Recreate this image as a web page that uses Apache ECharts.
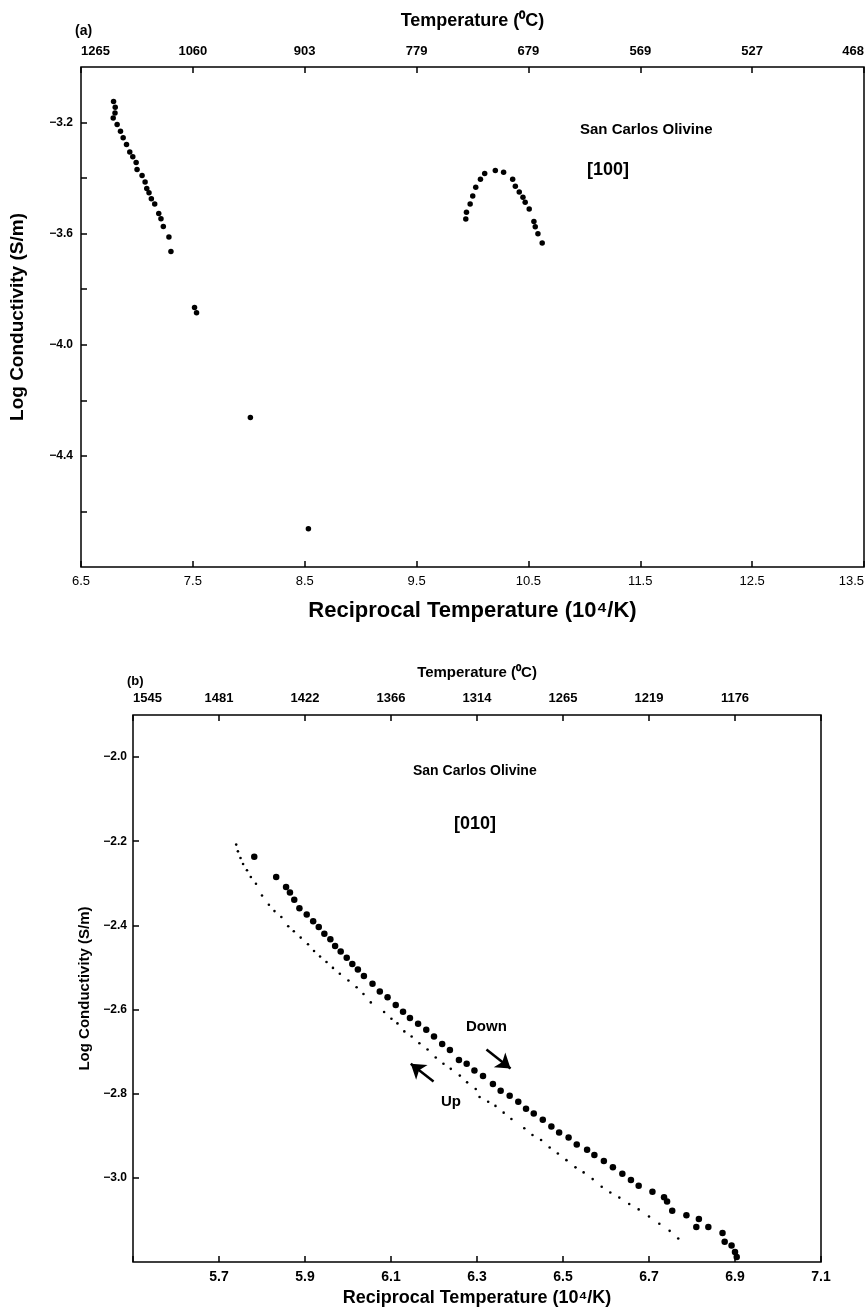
<!DOCTYPE html>
<html>
<head>
<meta charset="utf-8">
<script src="https://cdn.jsdelivr.net/npm/echarts@6/dist/echarts.min.js"></script>
<style>
html, body { margin: 0; padding: 0; background: #fff; }
#echarts-box { width: 867px; height: 1308px; }
</style>
</head>
<body>
<div id="echarts-box"></div>
<script>
// (a) San Carlos olivine [100]
var recipA = [6.791, 6.806, 6.804, 6.788, 6.823, 6.853, 6.877, 6.907, 6.936, 6.963, 6.993, 7.001,
    7.046, 7.073, 7.088, 7.108, 7.129, 7.159, 7.195, 7.215, 7.236, 7.286, 7.304, 7.515, 7.533,
    8.014, 8.533,
    9.940, 9.946, 9.979, 10.002, 10.029, 10.071, 10.109, 10.204, 10.278, 10.359, 10.383, 10.418,
    10.451, 10.471, 10.507, 10.549, 10.561, 10.585, 10.623];
var logA = [-3.124, -3.145, -3.166, -3.184, -3.207, -3.231, -3.255, -3.279, -3.306, -3.323, -3.344, -3.369,
    -3.391, -3.414, -3.437, -3.453, -3.474, -3.493, -3.527, -3.546, -3.574, -3.612, -3.664, -3.866, -3.885,
    -4.262, -4.662,
    -3.547, -3.523, -3.493, -3.464, -3.433, -3.404, -3.383, -3.373, -3.379, -3.404, -3.429, -3.450,
    -3.469, -3.487, -3.511, -3.556, -3.575, -3.600, -3.634];

// (b) San Carlos olivine [010], heating (Up) and cooling (Down)
var recipUp = [5.740, 5.744, 5.750, 5.756, 5.765, 5.774, 5.786, 5.800, 5.816, 5.829, 5.845, 5.861,
    5.874, 5.890, 5.907, 5.921, 5.935, 5.950, 5.965, 5.981, 6.001, 6.020, 6.036, 6.053, 6.084,
    6.101, 6.115, 6.131, 6.148, 6.166, 6.185, 6.204, 6.222, 6.239, 6.260, 6.277, 6.297, 6.306,
    6.326, 6.343, 6.362, 6.380, 6.410, 6.429, 6.449, 6.469, 6.488, 6.508, 6.529, 6.548, 6.569,
    6.590, 6.610, 6.631, 6.654, 6.676, 6.700, 6.724, 6.748, 6.768];
var logUp = [-2.208, -2.224, -2.240, -2.254, -2.269, -2.285, -2.301, -2.329, -2.351, -2.366, -2.380, -2.402,
    -2.414, -2.429, -2.445, -2.461, -2.474, -2.487, -2.501, -2.515, -2.531, -2.547, -2.563, -2.583, -2.606,
    -2.622, -2.633, -2.652, -2.664, -2.680, -2.695, -2.714, -2.729, -2.741, -2.757, -2.773, -2.789, -2.808,
    -2.819, -2.829, -2.845, -2.860, -2.882, -2.898, -2.910, -2.928, -2.942, -2.958, -2.975, -2.987, -3.003,
    -3.021, -3.035, -3.047, -3.062, -3.075, -3.092, -3.109, -3.126, -3.144];
var recipDown = [5.782, 5.833, 5.856, 5.865, 5.875, 5.887, 5.904, 5.919, 5.932, 5.945, 5.959, 5.970,
    5.983, 5.997, 6.010, 6.023, 6.037, 6.057, 6.074, 6.092, 6.111, 6.128, 6.144, 6.163, 6.182,
    6.200, 6.219, 6.237, 6.258, 6.276, 6.294, 6.314, 6.337, 6.355, 6.376, 6.396, 6.414, 6.432,
    6.453, 6.473, 6.491, 6.513, 6.532, 6.556, 6.573, 6.595, 6.616, 6.638, 6.658, 6.676, 6.708,
    6.735, 6.742, 6.754, 6.787, 6.816, 6.810, 6.838, 6.871, 6.876, 6.892, 6.900, 6.904];
var logDown = [-2.237, -2.285, -2.309, -2.322, -2.339, -2.359, -2.374, -2.390, -2.404, -2.420, -2.433, -2.449,
    -2.462, -2.477, -2.492, -2.505, -2.520, -2.539, -2.557, -2.571, -2.589, -2.605, -2.620, -2.634, -2.648,
    -2.664, -2.682, -2.696, -2.720, -2.729, -2.745, -2.758, -2.777, -2.793, -2.805, -2.819, -2.836, -2.847,
    -2.862, -2.878, -2.892, -2.904, -2.921, -2.933, -2.946, -2.960, -2.975, -2.990, -3.005, -3.019, -3.033,
    -3.046, -3.056, -3.078, -3.089, -3.098, -3.117, -3.117, -3.131, -3.152, -3.161, -3.176, -3.188];

// tick positions and labels
var recipTicksA = [6.5, 7.5, 8.5, 9.5, 10.5, 11.5, 12.5, 13.5];
var tempLabelsA = ['1265', '1060', '903', '779', '679', '569', '527', '468'];
var logTicksA = [-4.6, -4.4, -4.2, -4.0, -3.8, -3.6, -3.4, -3.2];
var logLabelsA = [-4.4, -4.0, -3.6, -3.2];

var recipTicksB = [5.5, 5.7, 5.9, 6.1, 6.3, 6.5, 6.7, 6.9, 7.1];
var tempLabelsB = ['1545', '1481', '1422', '1366', '1314', '1265', '1219', '1176', ''];
var recipLabelsB = [5.7, 5.9, 6.1, 6.3, 6.5, 6.7, 6.9, 7.1];
var logTicksB = [-3.0, -2.8, -2.6, -2.4, -2.2, -2.0];

var FONT = "'Liberation Sans', Arial, sans-serif";

function zip(xs, ys) {
    return xs.map(function (x, i) { return [x, ys[i]]; });
}
function nearest(arr, v) {
    var best = 0;
    for (var i = 1; i < arr.length; i++) {
        if (Math.abs(arr[i] - v) < Math.abs(arr[best] - v)) best = i;
    }
    return best;
}
function minus(v) {
    return (v < 0 ? '\u2212' : '') + Math.abs(v).toFixed(1);
}
var tick = { show: true, inside: true, length: 6, lineStyle: { color: '#000', width: 1.5 } };
var dot = { color: '#000', opacity: 1 };

var myChart = echarts.init(document.getElementById('echarts-box'));
var option = {
    backgroundColor: '#fff',
    animation: false,
    textStyle: { fontFamily: FONT, color: '#000' },
    grid: [
        { left: 80, right: 2, top: 67, height: 500, show: true, borderColor: '#000', borderWidth: 1.5 },
        { left: 133, right: 46, top: 715, height: 547, show: true, borderColor: '#000', borderWidth: 1.5 }
    ],
    xAxis: [
        {
            gridIndex: 0, type: 'value', position: 'bottom', min: 6.5, max: 13.5,
            axisLine: { show: false }, splitLine: { show: false },
            axisTick: Object.assign({ customValues: recipTicksA }, tick),
            axisLabel: {
                customValues: recipTicksA, margin: 8, fontSize: 13, color: '#000',
                alignMaxLabel: 'right',
                formatter: function (v) { return v.toFixed(1); }
            },
            name: 'Reciprocal Temperature (10\u2074/K)', nameLocation: 'middle', nameGap: 33,
            nameTextStyle: { fontSize: 22, fontWeight: 'bold', color: '#000' }
        },
        {
            gridIndex: 0, type: 'value', position: 'top', min: 6.5, max: 13.5,
            axisLine: { show: false }, splitLine: { show: false },
            axisTick: Object.assign({ customValues: recipTicksA }, tick),
            axisLabel: {
                customValues: recipTicksA, margin: 9, fontSize: 13, fontWeight: 'bold', color: '#000',
                alignMinLabel: 'left', alignMaxLabel: 'right',
                formatter: function (v) { return tempLabelsA[nearest(recipTicksA, v)]; }
            },
            name: 'Temperature (\u2070C)', nameLocation: 'middle', nameGap: 37,
            nameTextStyle: { fontSize: 18, fontWeight: 'bold', color: '#000' }
        },
        {
            gridIndex: 1, type: 'value', position: 'bottom', min: 5.5, max: 7.1,
            axisLine: { show: false }, splitLine: { show: false },
            axisTick: Object.assign({ customValues: recipTicksB }, tick),
            axisLabel: {
                customValues: recipLabelsB, margin: 8, fontSize: 14, fontWeight: 'bold', color: '#000',
                formatter: function (v) { return v.toFixed(1); }
            },
            name: 'Reciprocal Temperature (10\u2074/K)', nameLocation: 'middle', nameGap: 27,
            nameTextStyle: { fontSize: 18, fontWeight: 'bold', color: '#000' }
        },
        {
            gridIndex: 1, type: 'value', position: 'top', min: 5.5, max: 7.1,
            axisLine: { show: false }, splitLine: { show: false },
            axisTick: Object.assign({ customValues: recipTicksB }, tick),
            axisLabel: {
                customValues: recipTicksB, margin: 10, fontSize: 13, fontWeight: 'bold', color: '#000',
                alignMinLabel: 'left',
                formatter: function (v) { return tempLabelsB[nearest(recipTicksB, v)]; }
            },
            name: 'Temperature (\u2070C)', nameLocation: 'middle', nameGap: 35,
            nameTextStyle: { fontSize: 15, fontWeight: 'bold', color: '#000' }
        }
    ],
    yAxis: [
        {
            gridIndex: 0, type: 'value', min: -4.8, max: -3.0,
            axisLine: { show: false }, splitLine: { show: false },
            axisTick: Object.assign({ customValues: logTicksA }, tick),
            axisLabel: {
                customValues: logLabelsA, margin: 8, fontSize: 12, fontWeight: 'bold', color: '#000',
                formatter: minus
            },
            name: 'Log Conductivity (S/m)', nameLocation: 'middle', nameGap: 54,
            nameTextStyle: { fontSize: 19, fontWeight: 'bold', color: '#000' }
        },
        {
            gridIndex: 1, type: 'value', min: -3.2, max: -1.9,
            axisLine: { show: false }, splitLine: { show: false },
            axisTick: Object.assign({ customValues: logTicksB }, tick),
            axisLabel: {
                customValues: logTicksB, margin: 6, fontSize: 12, fontWeight: 'bold', color: '#000',
                formatter: minus
            },
            name: 'Log Conductivity (S/m)', nameLocation: 'middle', nameGap: 41,
            nameTextStyle: { fontSize: 15, fontWeight: 'bold', color: '#000' }
        }
    ],
    series: [
        {
            name: '[100]', type: 'scatter', xAxisIndex: 0, yAxisIndex: 0,
            data: zip(recipA, logA), symbolSize: 5.5, itemStyle: dot
        },
        {
            name: 'Down', type: 'scatter', xAxisIndex: 2, yAxisIndex: 1,
            data: zip(recipDown, logDown), symbolSize: 6.5, itemStyle: dot,
            markLine: {
                silent: true, symbol: ['none', 'arrow'], symbolSize: 14,
                label: { show: false },
                emphasis: { disabled: true },
                lineStyle: { color: '#000', width: 2.5, type: 'solid', opacity: 1 },
                data: [
                    [{ coord: [6.322, -2.695] }, { coord: [6.378, -2.740] }],
                    [{ coord: [6.199, -2.771] }, { coord: [6.146, -2.729] }]
                ]
            }
        },
        {
            name: 'Up', type: 'scatter', xAxisIndex: 2, yAxisIndex: 1,
            data: zip(recipUp, logUp), symbolSize: 2.6, itemStyle: dot
        }
    ],
    graphic: [
        { type: 'text', left: 75, top: 24, style: { text: '(a)', font: 'bold 14px ' + FONT, fill: '#000' } },
        { type: 'text', left: 580, top: 122, style: { text: 'San Carlos Olivine', font: 'bold 15px ' + FONT, fill: '#000' } },
        { type: 'text', left: 587, top: 161, style: { text: '[100]', font: 'bold 18px ' + FONT, fill: '#000' } },
        { type: 'text', left: 127, top: 675, style: { text: '(b)', font: 'bold 13px ' + FONT, fill: '#000' } },
        { type: 'text', left: 413, top: 764, style: { text: 'San Carlos Olivine', font: 'bold 14px ' + FONT, fill: '#000' } },
        { type: 'text', left: 454, top: 815, style: { text: '[010]', font: 'bold 18px ' + FONT, fill: '#000' } },
        { type: 'text', left: 466, top: 1019, style: { text: 'Down', font: 'bold 15px ' + FONT, fill: '#000' } },
        { type: 'text', left: 441, top: 1094, style: { text: 'Up', font: 'bold 15px ' + FONT, fill: '#000' } }
    ]
};
myChart.setOption(option);
</script>
</body>
</html>
